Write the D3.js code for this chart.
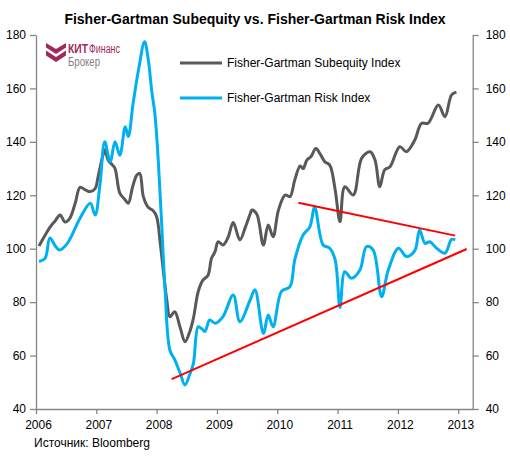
<!DOCTYPE html>
<html><head><meta charset="utf-8">
<script src="https://cdn.jsdelivr.net/npm/d3@7"></script>
<style>
html,body{margin:0;padding:0;background:#fff;}
svg{display:block;font-family:"Liberation Sans",Arial,sans-serif;}
</style></head>
<body>
<svg id="chart" width="510" height="457"></svg>
<script>
// ---- data ----
const yearTicks = [2006, 2007, 2008, 2009, 2010, 2011, 2012, 2013];
const valueTicks = [40, 60, 80, 100, 120, 140, 160, 180];

const subequityDates = [2006.05,2006.15,2006.23,2006.32,2006.40,2006.48,2006.56,2006.65,2006.73,2006.82,2006.90,2006.98,
  2007.03,2007.11,2007.14,2007.20,2007.26,2007.31,2007.39,2007.47,2007.53,2007.60,2007.67,2007.72,2007.78,2007.86,2007.94,
  2008.00,2008.06,2008.11,2008.17,2008.22,2008.30,2008.39,2008.47,2008.55,2008.61,2008.69,2008.77,2008.85,2008.91,2008.97,
  2009.02,2009.10,2009.18,2009.27,2009.38,2009.47,2009.55,2009.58,2009.66,2009.77,2009.85,2009.93,
  2010.02,2010.13,2010.21,2010.29,2010.38,2010.43,2010.49,2010.56,2010.64,2010.71,2010.79,2010.87,2010.96,
  2011.04,2011.12,2011.26,2011.40,2011.54,2011.62,2011.70,2011.78,2011.87,
  2012.03,2012.14,2012.28,2012.39,2012.50,2012.67,2012.78,2012.89,2012.97];
const subequityValues = [101,105,108,110.5,112.6,110,111.4,117,123,122,121.4,122.5,
  127,135,137,133,131.5,130,120.8,118.5,117,123,127.5,128.2,119.5,115.5,114.3,
  112,102,92,80.5,74.5,76.4,70.5,65.2,69,74,84,88.3,90,96.4,99,
  102.6,101.4,104,109.8,103.3,108,113,114.5,113,101.4,108.9,104.5,
  114.5,120.1,119.5,125.7,131,130,133.2,134.5,137.5,135.5,132.5,131.3,122,
  110.1,123.2,120.1,133.9,136.3,133.2,123.2,129.5,130.7,
  138.2,136.3,140.7,146.9,147,153.8,149.4,157.6,158.6];

const riskDates = [2006.05,2006.15,2006.23,2006.32,2006.39,2006.52,2006.73,2006.90,2006.98,
  2007.06,2007.14,2007.23,2007.31,2007.39,2007.48,2007.53,2007.61,2007.70,2007.80,2007.86,2007.92,2007.97,
  2008.03,2008.08,2008.14,2008.22,2008.30,2008.39,2008.47,2008.55,2008.61,2008.69,2008.75,2008.80,2008.88,2008.97,
  2009.10,2009.27,2009.38,2009.55,2009.63,2009.77,2009.85,2009.93,
  2010.07,2010.21,2010.29,2010.43,2010.54,2010.62,2010.76,2010.87,2010.96,
  2011.04,2011.12,2011.23,2011.37,2011.48,2011.59,2011.73,2011.84,
  2012.01,2012.14,2012.28,2012.36,2012.45,2012.53,2012.64,2012.78,2012.89,2012.95];
const riskValues = [95.2,96.4,104,101,99.5,102,111.4,117,112.6,
  123.9,140,132.6,140,135,145.7,142,154.4,167,177.5,171,158.8,150.7,
  132,110.8,84.6,62,58.5,53.4,49,53,57.1,70.8,70,69,73.3,72.1,
  74.6,82.7,72.7,80.8,84.6,68.3,75.2,70.8,
  84,85.8,95.8,105.2,108.2,115.5,101.4,100.2,95.8,
  78,91.4,88.9,92,100.8,99.5,82,92,
  100.2,97.1,99.3,107,102,102.6,100.2,98.3,103.5,103.3];

// trend lines (support / resistance)
const supportDates = [2008.25, 2013.14];
const supportValues = [51.2, 99.9];
const resistanceDates = [2010.35, 2012.95];
const resistanceValues = [117.2, 104.9];

const seriesNames = ["Fisher-Gartman Subequity Index", "Fisher-Gartman Risk Index"];
const titleText = "Fisher-Gartman Subequity vs. Fisher-Gartman Risk Index";
const sourceText = "Источник: Bloomberg";

// ---- drawing ----
const svg = d3.select("#chart");
const x = d3.scaleLinear().domain([2006, 2013.24]).range([36, 472.7]);
const y = d3.scaleLinear().domain([40, 180]).range([409, 35]);

const axisColor = "#868686";
const fontSize = "12px";

function styleAxis(g) {
  g.select(".domain").attr("stroke", axisColor).attr("stroke-width", 1.3);
  g.selectAll(".tick line").attr("stroke", axisColor).attr("stroke-width", 1.3);
  g.selectAll(".tick text").attr("fill", "#000").style("font-size", fontSize)
    .style("font-family", '"Liberation Sans", Arial, sans-serif');
}

svg.append("g").attr("transform", `translate(${x.range()[0]},0)`)
  .call(d3.axisLeft(y).tickValues(valueTicks).tickSize(6).tickPadding(4).tickSizeOuter(0))
  .call(styleAxis);
svg.append("g").attr("transform", `translate(${x.range()[1]},0)`)
  .call(d3.axisRight(y).tickValues(valueTicks).tickSize(6).tickPadding(7).tickSizeOuter(0))
  .call(styleAxis);
svg.append("g").attr("transform", `translate(0,${y.range()[0]})`)
  .call(d3.axisBottom(x).tickValues(yearTicks).tickFormat(d3.format("d")).tickSize(5).tickPadding(6).tickSizeOuter(0))
  .call(styleAxis)
  .call(g => g.selectAll(".tick text").attr("dx", 2));

// lines
const line = d3.line().x(d => x(d[0])).y(d => y(d[1])).curve(d3.curveCatmullRom.alpha(0.5));
const subData = subequityDates.map((d, i) => [d, subequityValues[i]]);
const riskData = riskDates.map((d, i) => [d, riskValues[i]]);

svg.append("path").datum(subData).attr("d", line)
  .attr("fill", "none").attr("stroke", "#595959").attr("stroke-width", 3).attr("stroke-linejoin", "round");
svg.append("path").datum(riskData).attr("d", line)
  .attr("fill", "none").attr("stroke", "#00B0F0").attr("stroke-width", 3).attr("stroke-linejoin", "round");

const straight = d3.line().x(d => x(d[0])).y(d => y(d[1]));
svg.append("path").datum(supportDates.map((d, i) => [d, supportValues[i]])).attr("d", straight)
  .attr("stroke", "#FF0000").attr("stroke-width", 2).attr("fill", "none");
svg.append("path").datum(resistanceDates.map((d, i) => [d, resistanceValues[i]])).attr("d", straight)
  .attr("stroke", "#FF0000").attr("stroke-width", 2).attr("fill", "none");

// title
svg.append("text").attr("x", 255).attr("y", 24).attr("text-anchor", "middle")
  .style("font-size", "14px").style("font-weight", "bold").attr("fill", "#000").text(titleText);

// legend
const legendColors = ["#595959", "#00B0F0"];
const legendY = [63, 98];
seriesNames.forEach((name, i) => {
  svg.append("line").attr("x1", 180).attr("x2", 222).attr("y1", legendY[i]).attr("y2", legendY[i])
    .attr("stroke", legendColors[i]).attr("stroke-width", 3);
  svg.append("text").attr("x", 227).attr("y", legendY[i]).attr("dy", "0.35em")
    .style("font-size", fontSize).attr("fill", "#000").text(name);
});

// source
svg.append("text").attr("x", 34).attr("y", 447).style("font-size", fontSize).attr("fill", "#000").text(sourceText);

// logo
const logo = svg.append("g");
const maroon = "#9E2A5C";
logo.append("path").attr("d", "M46,43 L56,49 L66,43 L66,47.5 L56,54 L46,47.5 Z").attr("fill", maroon);
logo.append("path").attr("d", "M46,50.5 L56,57 L66,50.5 L66,55.5 L56,62 L46,55.5 Z").attr("fill", maroon);
logo.append("text").attr("x", 68).attr("y", 53).style("font-size", "12px").style("font-weight", "bold")
  .attr("fill", maroon).attr("textLength", 20).attr("lengthAdjust", "spacingAndGlyphs").text("КИТ");
logo.append("text").attr("x", 89).attr("y", 53).style("font-size", "12px")
  .attr("fill", maroon).attr("textLength", 31).attr("lengthAdjust", "spacingAndGlyphs").text("Финанс");
logo.append("text").attr("x", 68).attr("y", 66).style("font-size", "12px").attr("fill", "#7f7f7f")
  .attr("textLength", 32).attr("lengthAdjust", "spacingAndGlyphs").text("Брокер");
</script>
</body></html>
